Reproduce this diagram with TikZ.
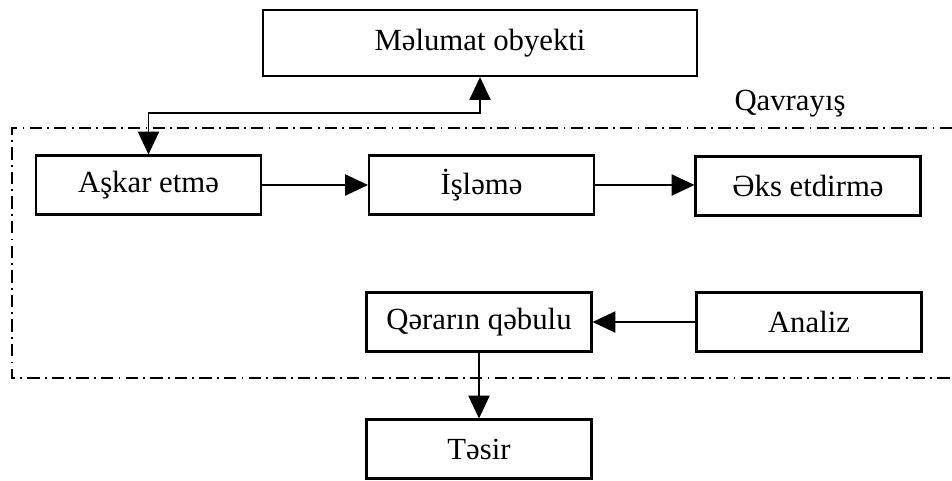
\documentclass[tikz,border=0pt]{standalone}
\usepackage{fontspec}
\setmainfont{Liberation Serif}
\usetikzlibrary{arrows.meta}

\begin{document}
\begin{tikzpicture}
[
x=0.02cm,y=-0.02cm,
every node/.style={font=\fontsize{17.5}{20}\selectfont},
block/.style={draw,line width=1.2pt,rectangle,minimum width=4.5cm,minimum height=1.18cm,inner sep=0pt},
flow/.style={line width=1.1pt,-{Triangle[length=13pt,width=12pt]}},
frame/.style={line width=0.9pt,dash pattern=on 7pt off 3pt on 1pt off 3pt},
]
\useasboundingbox (0,0) rectangle (952,480);

%Place the nodes
\node[block,minimum width=8.68cm,minimum height=1.32cm] (info) at (480,43) {Məlumat obyekti};
\node[block] (detect) at (148.5,185) {Aşkar etmə};
\node[block] (proc) at (481.5,185) {İşləmə};
\node[block] (show) at (808,186) {Əks etdirmə};
\node[block] (decide) at (479,322) {Qərarın qəbulu};
\node[block] (anal) at (809,322) {Analiz};
\node[block] (effect) at (479,449) {Təsir};
\node (perc) at (790,104) {Qavrayış};
\coordinate (bend) at (480,113);

%Dashed frame
\coordinate (ftl) at (12,128);
\coordinate (fbl) at (12,378);
\draw[frame] (952,128) -- (ftl) -- (fbl) -- (952,378);

%Draw the connections
\draw[flow,{Triangle[length=13pt,width=12pt]}-{Triangle[length=13pt,width=12pt]}] (detect.north) |- (bend) -- (info.south);
\draw[flow] (detect) -- (proc);
\draw[flow] (proc.east) -- (show.west |- proc.east);
\draw[flow] (anal) -- (decide);
\draw[flow] (decide) -- (effect);
\end{tikzpicture}
\end{document}
